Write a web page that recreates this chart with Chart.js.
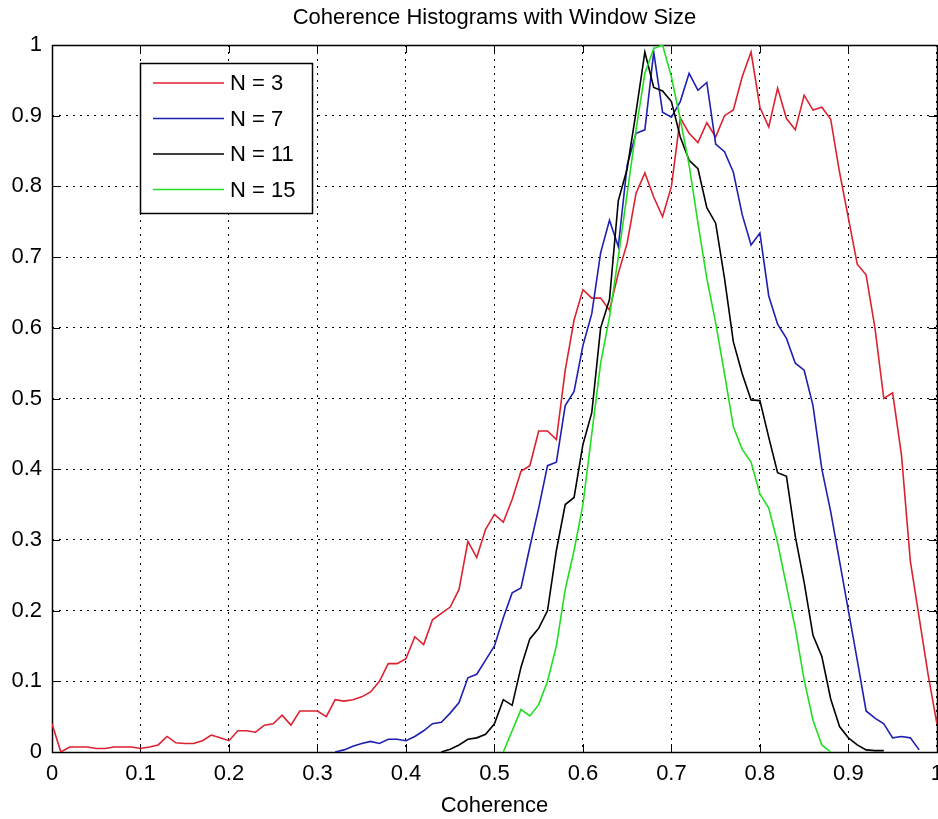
<!DOCTYPE html>
<html>
<head>
<meta charset="utf-8">
<title>Coherence Histograms with Window Size</title>
<script src="https://cdn.jsdelivr.net/npm/chart.js@4.4.1/dist/chart.umd.min.js"></script>
<style>
  html, body { margin: 0; padding: 0; background: #fff; overflow: hidden; }
  #wrap { width: 952px; height: 819px; }
</style>
</head>
<body>
<div id="wrap"><canvas id="chart" width="952" height="819"></canvas></div>
<script>
// Histogram bins (coherence)
const bins = [
  0.00, 0.01, 0.02, 0.03, 0.04, 0.05, 0.06, 0.07, 0.08, 0.09,
  0.10, 0.11, 0.12, 0.13, 0.14, 0.15, 0.16, 0.17, 0.18, 0.19,
  0.20, 0.21, 0.22, 0.23, 0.24, 0.25, 0.26, 0.27, 0.28, 0.29,
  0.30, 0.31, 0.32, 0.33, 0.34, 0.35, 0.36, 0.37, 0.38, 0.39,
  0.40, 0.41, 0.42, 0.43, 0.44, 0.45, 0.46, 0.47, 0.48, 0.49,
  0.50, 0.51, 0.52, 0.53, 0.54, 0.55, 0.56, 0.57, 0.58, 0.59,
  0.60, 0.61, 0.62, 0.63, 0.64, 0.65, 0.66, 0.67, 0.68, 0.69,
  0.70, 0.71, 0.72, 0.73, 0.74, 0.75, 0.76, 0.77, 0.78, 0.79,
  0.80, 0.81, 0.82, 0.83, 0.84, 0.85, 0.86, 0.87, 0.88, 0.89,
  0.90, 0.91, 0.92, 0.93, 0.94, 0.95, 0.96, 0.97, 0.98, 0.99,
  1.00
];

// N = 3, bins 0.00 .. 1.00
const n3From = 0.00;
const n3 = [
  0.04, 0.0, 0.007, 0.007, 0.007, 0.005, 0.005, 0.007, 0.007, 0.007,
  0.005, 0.007, 0.01, 0.022, 0.013, 0.012, 0.012, 0.016, 0.024, 0.02,
  0.016, 0.03, 0.03, 0.028, 0.038, 0.04, 0.052, 0.038, 0.058, 0.058,
  0.058, 0.05, 0.074, 0.072, 0.074, 0.078, 0.085, 0.1, 0.125, 0.125,
  0.132, 0.163, 0.152, 0.187, 0.196, 0.205, 0.23, 0.298, 0.275, 0.315,
  0.336, 0.325, 0.357, 0.397, 0.405, 0.454, 0.454, 0.442, 0.54, 0.611,
  0.654, 0.642, 0.642, 0.625, 0.677, 0.72, 0.79, 0.819, 0.785, 0.757,
  0.8, 0.897, 0.875, 0.862, 0.89, 0.87, 0.9, 0.908, 0.955, 0.99,
  0.912, 0.884, 0.939, 0.896, 0.88, 0.929, 0.908, 0.912, 0.895, 0.82,
  0.755, 0.69, 0.675, 0.6, 0.5, 0.508, 0.42, 0.27, 0.19, 0.11,
  0.04
];

// N = 7, bins 0.32 .. 0.98
const n7From = 0.32;
const n7 = [
  0.0, 0.003, 0.008, 0.012, 0.015, 0.012, 0.018, 0.018,
  0.016, 0.022, 0.03, 0.04, 0.042, 0.055, 0.07, 0.105, 0.11, 0.13,
  0.15, 0.19, 0.225, 0.232, 0.29, 0.345, 0.405, 0.41, 0.49, 0.51,
  0.575, 0.62, 0.706, 0.752, 0.715, 0.83, 0.875, 0.88, 0.99, 0.905,
  0.898, 0.92, 0.96, 0.936, 0.947, 0.86, 0.849, 0.82, 0.76, 0.717,
  0.734, 0.645, 0.605, 0.585, 0.55, 0.54, 0.49, 0.4, 0.34, 0.27,
  0.2, 0.13, 0.058, 0.048, 0.04, 0.02, 0.022, 0.02, 0.003
];

// N = 11, bins 0.44 .. 0.94
const n11From = 0.44;
const n11 = [
  0.0, 0.004, 0.01, 0.018, 0.02, 0.025,
  0.04, 0.074, 0.066, 0.12, 0.16, 0.175, 0.2, 0.285, 0.35, 0.36,
  0.435, 0.48, 0.6, 0.64, 0.78, 0.825, 0.905, 0.99, 0.94, 0.935,
  0.92, 0.87, 0.837, 0.825, 0.77, 0.748, 0.67, 0.58, 0.535, 0.498,
  0.497, 0.445, 0.395, 0.39, 0.305, 0.24, 0.165, 0.135, 0.075, 0.036,
  0.02, 0.01, 0.003, 0.002, 0.002
];

// N = 15, bins 0.51 .. 0.88
const n15From = 0.51;
const n15 = [
  0.0, 0.03, 0.06, 0.051, 0.067, 0.1, 0.15, 0.23, 0.285,
  0.35, 0.45, 0.55, 0.615, 0.7, 0.79, 0.88, 0.96, 0.995, 1.0,
  0.955, 0.895, 0.83, 0.748, 0.67, 0.607, 0.535, 0.46, 0.428, 0.41,
  0.365, 0.345, 0.296, 0.235, 0.175, 0.102, 0.045, 0.01, 0.0
];

const seriesLabels = ["N = 3", "N = 7", "N = 11", "N = 15"];
const seriesColors = ["#dc2230", "#1f1fb0", "#000000", "#22dd22"];
const ticksX = [0, 0.1, 0.2, 0.3, 0.4, 0.5, 0.6, 0.7, 0.8, 0.9, 1];
const ticksY = [0, 0.1, 0.2, 0.3, 0.4, 0.5, 0.6, 0.7, 0.8, 0.9, 1];

const FONT = "'Liberation Sans Narrow', 'Liberation Sans', Arial, sans-serif";

function toPoints(from, values) {
  const start = bins.indexOf(from);
  return values.map((v, i) => ({ x: bins[start + i], y: v }));
}

function tickText(v) {
  if (v === 0) return "0";
  if (v === 1) return "1";
  return v.toFixed(1);
}

const allSeries = [[n3From, n3], [n7From, n7], [n11From, n11], [n15From, n15]];

const datasets = allSeries.map((s, i) => ({
  label: seriesLabels[i],
  data: toPoints(s[0], s[1]),
  borderColor: seriesColors[i],
  backgroundColor: seriesColors[i],
  borderWidth: 1.6,
  pointRadius: 0,
  tension: 0,
  fill: false,
  order: allSeries.length - i
}));

// MATLAB style box, inward ticks and legend
const matlabAxes = {
  id: "matlabAxes",
  beforeDatasetsDraw(chart) {
    const { ctx, chartArea: a, scales } = chart;
    ctx.save();
    ctx.strokeStyle = "#000";
    ctx.lineWidth = 1;
    ctx.beginPath();
    ticksX.forEach(v => {
      const px = Math.round(scales.x.getPixelForValue(v)) + 0.5;
      ctx.moveTo(px, a.bottom); ctx.lineTo(px, a.bottom - 8);
      ctx.moveTo(px, a.top); ctx.lineTo(px, a.top + 8);
    });
    ticksY.forEach(v => {
      const py = Math.round(scales.y.getPixelForValue(v)) + 0.5;
      ctx.moveTo(a.left, py); ctx.lineTo(a.left + 8, py);
      ctx.moveTo(a.right, py); ctx.lineTo(a.right - 8, py);
    });
    ctx.stroke();
    ctx.lineWidth = 1.5;
    ctx.strokeRect(Math.round(a.left) + 0.5, Math.round(a.top) + 0.5,
      Math.round(a.right - a.left), Math.round(a.bottom - a.top));
    ctx.restore();
  },
  afterDraw(chart) {
    const { ctx, chartArea: a } = chart;
    const bx = a.left + 88, by = a.top + 18, bw = 172, bh = 150;
    ctx.save();
    ctx.fillStyle = "#fff";
    ctx.fillRect(bx, by, bw, bh);
    ctx.strokeStyle = "#000";
    ctx.lineWidth = 1.5;
    ctx.strokeRect(bx + 0.5, by + 0.5, bw, bh);
    ctx.font = "22px " + FONT;
    ctx.textBaseline = "middle";
    chart.data.datasets.forEach((ds, i) => {
      const y = by + 20 + i * 35.5;
      ctx.strokeStyle = ds.borderColor;
      ctx.lineWidth = 1.6;
      ctx.beginPath();
      ctx.moveTo(bx + 13, y);
      ctx.lineTo(bx + 84, y);
      ctx.stroke();
      ctx.fillStyle = "#000";
      ctx.fillText(ds.label, bx + 90, y + 1);
    });
    ctx.restore();
  }
};

new Chart(document.getElementById("chart").getContext("2d"), {
  type: "line",
  data: { datasets },
  plugins: [matlabAxes],
  options: {
    responsive: false,
    animation: false,
    devicePixelRatio: 1,
    layout: { padding: { left: 0, right: 0, top: 0, bottom: 0 } },
    plugins: {
      legend: { display: false },
      tooltip: { enabled: false },
      title: {
        display: true,
        fullSize: false,
        text: "Coherence Histograms with Window Size",
        color: "#000",
        font: { family: FONT, size: 22, weight: "normal", lineHeight: 1.2 },
        padding: { top: 5, bottom: 13.6 }
      }
    },
    scales: {
      x: {
        type: "linear",
        min: 0,
        max: 1,
        afterBuildTicks: s => { s.ticks = ticksX.map(v => ({ value: v })); },
        afterFit: s => { s.height = 67; },
        ticks: {
          color: "#000",
          font: { family: FONT, size: 22 },
          padding: 9,
          maxRotation: 0,
          callback: v => tickText(v)
        },
        grid: { color: "#000", lineWidth: 1, drawTicks: false },
        border: { display: false, dash: [2, 5] },
        title: {
          display: true,
          text: "Coherence",
          color: "#000",
          font: { family: FONT, size: 22 },
          padding: { top: 0, bottom: 0 }
        }
      },
      y: {
        min: 0,
        max: 1,
        afterBuildTicks: s => { s.ticks = ticksY.map(v => ({ value: v })); },
        afterFit: s => { s.width = 52; },
        ticks: {
          color: "#000",
          font: { family: FONT, size: 22 },
          padding: 10,
          callback: v => tickText(v)
        },
        grid: { color: "#000", lineWidth: 1, drawTicks: false },
        border: { display: false, dash: [2, 5] }
      }
    }
  }
});
</script>
</body>
</html>
